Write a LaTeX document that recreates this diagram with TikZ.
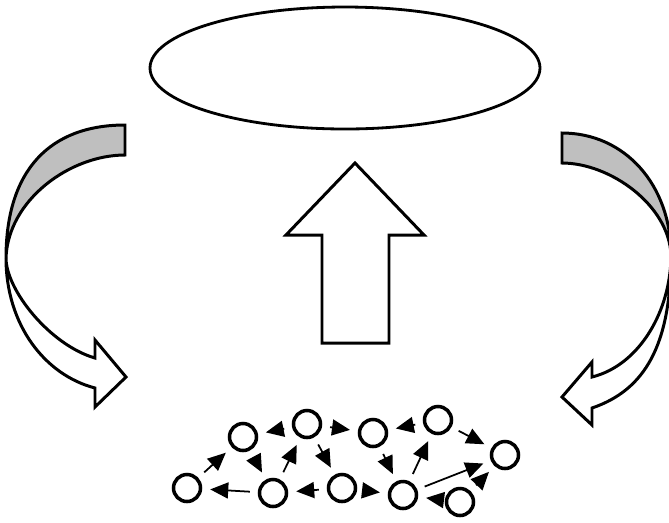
\documentclass[tikz,border=0pt]{standalone}
\usetikzlibrary{arrows.meta,shapes.geometric}
\begin{document}
\begin{tikzpicture}[scale=0.1]
\tikzstyle{every node}+=[inner sep=0pt]
\tikzstyle{agent}=[draw,circle,line width=1pt,minimum size=2.7mm]
\tikzstyle{link}=[line width=0.5pt,-{Triangle[length=1.8mm,width=1.6mm]},shorten <=0.8mm,shorten >=0.8mm]
\tikzstyle{band}=[draw,black,line width=0.85pt,line join=miter]
\clip (0,0) rectangle (66.9,-52.2);
\node [draw,ellipse,line width=0.8pt,minimum width=39mm,minimum height=12.2mm] (goal) at (34.5,-6.8) {};
% up arrow
\draw [band,fill=white] (35.5,-16.3) -- (42.4,-23.5) -- (38.9,-23.5) -- (38.9,-34.3) -- (32.2,-34.3) -- (32.2,-23.5) -- (28.6,-23.5) -- cycle;
% left curved arrow
\draw [band,fill=gray!50] (12.5,-12.5) .. controls (5,-12.5) and (0.6,-17) .. (0.6,-25.8) .. controls (0.8,-20) and (7,-15.5) .. (12.5,-15.5) -- cycle;
\draw [band,fill=white] (0.6,-25.8) .. controls (0.6,-32.5) and (4.5,-37.5) .. (9.5,-38.8) -- (9.5,-40.7) -- (12.6,-37.7) -- (9.5,-34) -- (9.5,-35.8) .. controls (5,-34.5) and (0.6,-29) .. (0.6,-25.8) -- cycle;
% right curved arrow
\draw [band,fill=gray!50] (56.2,-13.3) .. controls (62.5,-13.3) and (67.1,-18.5) .. (67.1,-25.5) .. controls (66.9,-20.5) and (61,-16.3) .. (56.2,-16.3) -- cycle;
\draw [band,fill=white] (67.1,-25.5) .. controls (67.1,-34.5) and (64.5,-39) .. (59.2,-40.8) -- (59.2,-42.5) -- (56.2,-39.7) -- (59.2,-36.2) -- (59.2,-37.7) .. controls (64,-36.5) and (67.1,-31) .. (67.1,-25.5) -- cycle;
% agents
\node [agent] (n1) at (18.7,-48.8) {};
\node [agent] (n2) at (24.3,-43.7) {};
\node [agent] (n3) at (30.7,-42.4) {};
\node [agent] (n4) at (37.3,-43.3) {};
\node [agent] (n5) at (43.8,-42.0) {};
\node [agent] (n6) at (50.5,-45.5) {};
\node [agent] (n7) at (27.3,-49.3) {};
\node [agent] (n8) at (34.2,-48.8) {};
\node [agent] (n9) at (40.3,-49.5) {};
\node [agent] (n10) at (46.0,-50.2) {};
\draw [link] (n1) -- (n2);
\draw [link] (n3) -- (n2);
\draw [link] (n2) -- (n7);
\draw [link] (n7) -- (n3);
\draw [link] (n3) -- (n8);
\draw [link] (n3) -- (n4);
\draw [link] (n5) -- (n4);
\draw [link] (n4) -- (n9);
\draw [link] (n9) -- (n5);
\draw [link] (n5) -- (n6);
\draw [link] (n9) -- (n6);
\draw [link] (n10) -- (n6);
\draw [link] (n10) -- (n9);
\draw [link] (n8) -- (n9);
\draw [link] (n8) -- (n7);
\draw [link] (n7) -- (n1);
\end{tikzpicture}
\end{document}
